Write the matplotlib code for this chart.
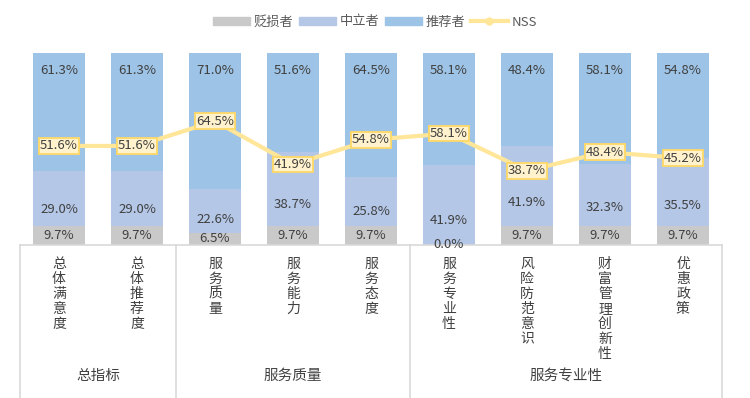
import numpy as np
import matplotlib
matplotlib.use("Agg")
import matplotlib.pyplot as plt
from matplotlib.lines import Line2D
from matplotlib.patches import Patch

plt.rcParams["font.family"] = ["Noto Sans CJK SC", "DejaVu Sans"]

categories = ["总体满意度", "总体推荐度", "服务质量", "服务能力", "服务态度",
              "服务专业性", "风险防范意识", "财富管理创新性", "优惠政策"]
detractors = [9.7, 9.7, 6.5, 9.7, 9.7, 0.0, 9.7, 9.7, 9.7]
neutrals = [29.0, 29.0, 22.6, 38.7, 25.8, 41.9, 41.9, 32.3, 35.5]
promoters = [61.3, 61.3, 71.0, 51.6, 64.5, 58.1, 48.4, 58.1, 54.8]
nss = [51.6, 51.6, 64.5, 41.9, 54.8, 58.1, 38.7, 48.4, 45.2]
groups = ["总指标", "服务质量", "服务专业性"]
group_sizes = [2, 3, 4]

c_det = "#c9c9c9"; c_neu = "#b4c7e7"; c_pro = "#9dc3e6"
c_line = "#ffe699"; c_txt = "#404040"

fig = plt.figure(figsize=(7.5, 3.98), dpi=100)
ax = fig.add_axes([20/750, 153/398, 702/750, 192/398])

x = np.arange(len(categories))
det = np.array(detractors); neu = np.array(neutrals); pro = np.array(promoters)
w = 0.67
ax.bar(x, det, w, color=c_det)
ax.bar(x, neu, w, bottom=det, color=c_neu)
ax.bar(x, pro, w, bottom=det + neu, color=c_pro)
ax.plot(x, nss, color=c_line, lw=3, zorder=3)

for i in range(len(x)):
    ax.text(x[i], det[i] / 2, f"{det[i]:.1f}%", ha="center", va="center",
            fontsize=9.5, color=c_txt)
    ax.text(x[i], det[i] + neu[i] * 0.3, f"{neu[i]:.1f}%", ha="center", va="center",
            fontsize=9.5, color=c_txt)
    ax.text(x[i], 100 - 9, f"{pro[i]:.1f}%", ha="center", va="center",
            fontsize=9.5, color=c_txt)
    ax.text(x[i], nss[i], f"{nss[i]:.1f}%", ha="center", va="center",
            fontsize=9.5, color=c_txt, zorder=5,
            bbox=dict(boxstyle="square,pad=0.1", fc="#fff2cc", ec="#ffd966", lw=1.3))

ax.set_xlim(-0.5, len(x) - 0.5)
ax.set_ylim(0, 100)
for s in ["top", "right", "left"]:
    ax.spines[s].set_visible(False)
ax.spines["bottom"].set_color("#d9d9d9")
ax.spines["bottom"].set_linewidth(1.2)
ax.set_yticks([])
ax.set_xticks([])

# category labels, vertical
trans = ax.get_xaxis_transform()
for i, cat in enumerate(categories):
    ax.text(x[i], -0.06, "\n".join(cat), transform=trans, ha="center", va="top",
            fontsize=10, color=c_txt, linespacing=1.1)

# group separators and labels
edges = np.concatenate([[0], np.cumsum(group_sizes)]) - 0.5
for e in edges:
    ax.plot([e, e], [0, -0.8], transform=trans, color="#d9d9d9", lw=1.2, clip_on=False)
for g, a, b in zip(groups, edges[:-1], edges[1:]):
    ax.text((a + b) / 2, -0.68, g, transform=trans, ha="center", va="center",
            fontsize=10.5, color=c_txt)

handles = [Patch(color=c_det), Patch(color=c_neu), Patch(color=c_pro),
           Line2D([], [], color=c_line, lw=3, marker="o", ms=5)]
fig.legend(handles, ["贬损者", "中立者", "推荐者", "NSS"], loc="center",
           bbox_to_anchor=(0.5, 1 - 22/398), ncol=4, frameon=False, fontsize=9.5,
           handlelength=2.8, handleheight=0.5, handletextpad=0.3, columnspacing=0.4,
           labelcolor="#595959")

fig.savefig("out.png", dpi=100)
